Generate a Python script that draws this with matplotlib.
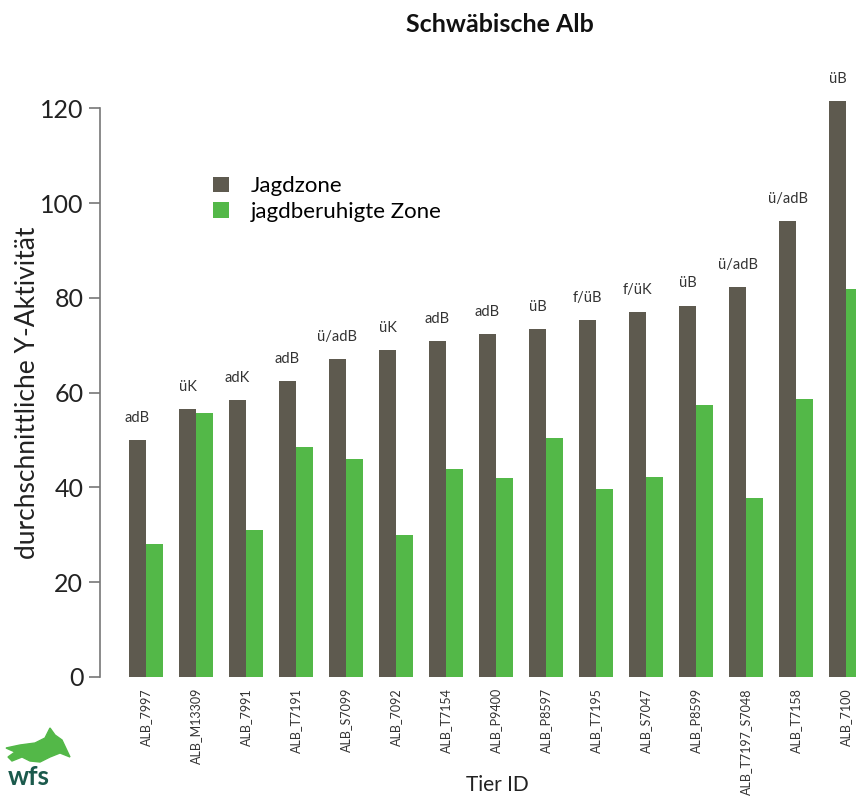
import matplotlib.pyplot as plt
from matplotlib.patches import Polygon
import numpy as np

# data
tiere = ['ALB_7997', 'ALB_M13309', 'ALB_7991', 'ALB_T7191', 'ALB_S7099', 'ALB_7092',
         'ALB_T7154', 'ALB_P9400', 'ALB_P8597', 'ALB_T7195', 'ALB_S7047', 'ALB_P8599',
         'ALB_T7197_S7048', 'ALB_T7158', 'ALB_7100']
jagdzone = [50.0, 56.5, 58.4, 62.4, 67.1, 69.0, 70.9, 72.3, 73.4, 75.3, 77.0, 78.4, 82.2, 96.2, 121.5]
beruhigt = [28.0, 55.7, 31.0, 48.5, 46.0, 30.0, 44.0, 42.0, 50.4, 39.6, 42.2, 57.4, 37.7, 58.6, 81.8]
typ = ['adB', 'üK', 'adK', 'adB', 'ü/adB', 'üK', 'adB', 'adB', 'üB', 'f/üB', 'f/üK', 'üB',
       'ü/adB', 'ü/adB', 'üB']

dunkel = '#5e5a4f'
gruen = '#53b848'

plt.rcParams['font.family'] = ['Lato', 'DejaVu Sans']

fig = plt.figure(figsize=(8.56, 8.06), dpi=100)
ax = fig.add_axes([100/856, 129/806, 756/856, 616/806])

x = np.arange(len(tiere))
w = 0.34
ax.bar(x - w/2, jagdzone, w, color=dunkel, label='Jagdzone', clip_on=False)
ax.bar(x + w/2, beruhigt, w, color=gruen, label='jagdberuhigte Zone', clip_on=False)

for i in range(len(tiere)):
    ax.annotate(typ[i], (x[i] - w/2, jagdzone[i]), xytext=(0, 11), textcoords='offset points',
                ha='center', va='bottom', fontsize=10.5, color='#333333')

ax.set_xlim(-0.92, 14.2)
ax.set_ylim(0, 130)
ax.set_yticks([0, 20, 40, 60, 80, 100, 120])
ax.tick_params(axis='y', labelsize=18, length=8, width=1.2, color='#777777', labelcolor='#222222', pad=4)
ax.set_xticks(x)
ax.set_xticklabels(tiere, rotation=90, fontsize=9, color='#333333')
ax.tick_params(axis='x', length=0, pad=8)

for s in ['top', 'right', 'bottom']:
    ax.spines[s].set_visible(False)
ax.spines['left'].set_bounds(0, 120)
ax.spines['left'].set_color('#777777')
ax.spines['left'].set_linewidth(1.2)

ax.set_ylabel('durchschnittliche Y-Aktivität', fontsize=19, color='#222222')
ax.yaxis.set_label_coords(-0.08, 60/130)

fig.text(497/856, 1 - 785/806, 'Tier ID', ha='center', va='center', fontsize=15, color='#222222')

ax.legend(loc='upper left', bbox_to_anchor=(0.123, 0.845), frameon=False, fontsize=16,
          handlelength=0.7, handleheight=0.7, handletextpad=1.0, labelspacing=0.25)

fig.text(500/856, 1 - 24/806, 'Schwäbische Alb', ha='center', va='center', fontsize=18,
         fontweight='bold', color='#111111')

# logo: rough hare + wfs
hase = np.array([[6, 748], [20, 745], [35, 743], [45, 738], [50, 728], [55, 735], [62, 740],
                 [70, 757], [60, 753], [50, 757], [40, 762], [30, 761], [22, 757], [12, 761],
                 [8, 757], [15, 752]])
fig.patches.append(Polygon(np.column_stack([hase[:, 0] / 856, 1 - hase[:, 1] / 806]),
                           closed=True, transform=fig.transFigure, color=gruen, zorder=5))
fig.text(8/856, 1 - 777/806, 'wfs', ha='left', va='center', fontsize=19, fontweight='bold',
         color='#1b5a4c')

fig.savefig('out.png', dpi=100)
